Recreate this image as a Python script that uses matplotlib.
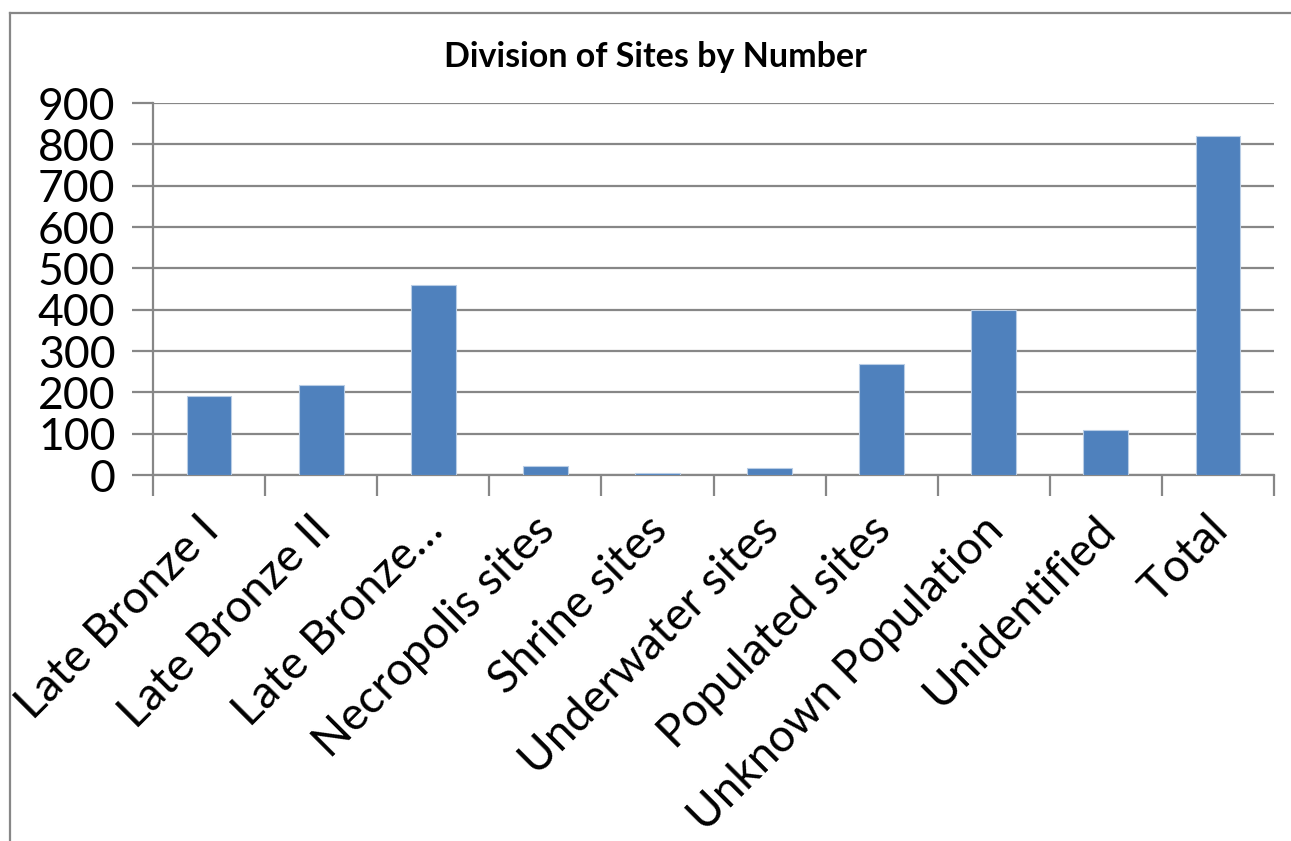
import matplotlib
matplotlib.use("Agg")
import matplotlib.pyplot as plt
import matplotlib.transforms as mtransforms
import numpy as np
from matplotlib.lines import Line2D

categories = ["Late Bronze I", "Late Bronze II", "Late Bronze\u2026", "Necropolis sites",
              "Shrine sites", "Underwater sites", "Populated sites",
              "Unknown Population", "Unidentified", "Total"]
values = [190, 217, 460, 22, 5, 16, 268, 400, 108, 820]
y_ticks = [0, 100, 200, 300, 400, 500, 600, 700, 800, 900]
title = "Division of Sites by Number"

plt.rcParams['font.family'] = ['Lato', 'DejaVu Sans']

W, H = 1291, 841
fig = plt.figure(figsize=(W / 100, H / 100), dpi=100)
ax = fig.add_axes([153 / W, 1 - 475 / H, (1274 - 153) / W, (475 - 103) / H])

grey = "#878787"
x = np.arange(len(categories))
ax.bar(x, values, width=0.4, color="#4F81BD", edgecolor="#B9CDE5", linewidth=0.8, zorder=3)

ax.set_xlim(-0.5, len(categories) - 0.5)
ax.set_ylim(0, 900)
ax.set_yticks(y_ticks)
ax.set_yticklabels([str(v) for v in y_ticks], fontsize=32)
ax.yaxis.grid(True, color=grey, linewidth=1.6, zorder=0)
ax.set_axisbelow(True)

ax.set_xticks(x)
ax.set_xticklabels(categories, rotation=45, ha="right", va="top",
                   rotation_mode="anchor", fontsize=33)
ax.tick_params(axis="x", which="major", length=0, pad=24)
ax.set_xticks(np.arange(-0.5, len(categories), 1.0), minor=True)
ax.tick_params(axis="x", which="minor", length=15, width=1.6, color=grey, direction="out")
ax.tick_params(axis="y", length=15, width=1.6, color=grey, direction="out", pad=12)

shift = mtransforms.ScaledTranslation(-12 / 100, 0, fig.dpi_scale_trans)
for lbl in ax.get_xticklabels():
    lbl.set_transform(lbl.get_transform() + shift)

for s in ["top", "right"]:
    ax.spines[s].set_visible(False)
for s in ["left", "bottom"]:
    ax.spines[s].set_color(grey)
    ax.spines[s].set_linewidth(1.6)

fig.text(655 / W, 1 - 57 / H, title, ha="center", va="center",
         fontsize=24.5, fontweight="bold")

# chart area border (left and top edges visible)
fig.add_artist(Line2D([10 / W, 10 / W], [0, 1 - 13 / H], transform=fig.transFigure,
                      color=grey, linewidth=1.6))
fig.add_artist(Line2D([10 / W, 1], [1 - 13 / H, 1 - 13 / H], transform=fig.transFigure,
                      color=grey, linewidth=1.6))

fig.savefig("out.png", dpi=100)
